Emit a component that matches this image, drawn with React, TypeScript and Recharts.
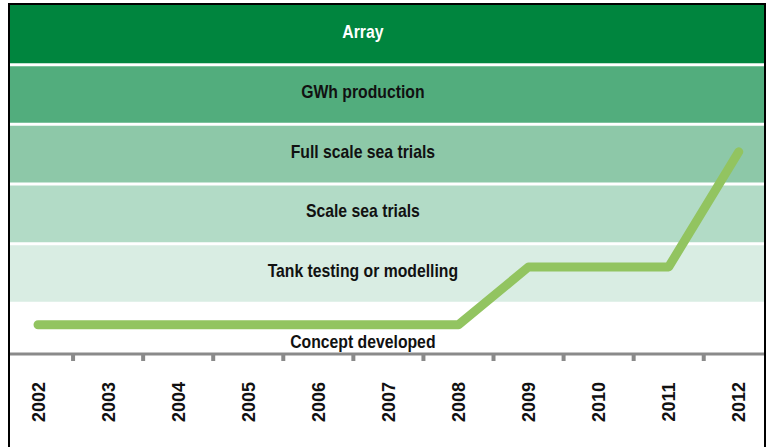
import { LineChart, Line, XAxis, YAxis, ReferenceArea, ReferenceLine } from 'recharts'

const years = [2002, 2003, 2004, 2005, 2006, 2007, 2008, 2009, 2010, 2011, 2012]
// stage reached each year (0 = concept ... 5 = array)
const progress = [0.64, 0.64, 0.64, 0.64, 0.64, 0.64, 0.64, 1.61, 1.61, 1.61, 3.54]
const stages = [
  'Concept developed',
  'Tank testing or modelling',
  'Scale sea trials',
  'Full scale sea trials',
  'GWh production',
  'Array',
]
// half-year positions for the tick marks between years
const dividers = years.slice(0, -1).map((y) => y + 0.5)

const bandFills = ['#ffffff', '#d9ede3', '#b2dbc6', '#8dc8a8', '#52ad7d', '#00853e']
const Y_MIN = 0.15
const X_DOMAIN = [2001.6, 2012.36]

const rows = years.map((year, i) => ({ year, stage: progress[i] }))

const FONT = "'Liberation Sans', Arial, Helvetica, sans-serif"

// narrow bold look: squeeze regular bold text horizontally
const bandLabel = (text: string, idx: number) => (props: any) => {
  const vb = props.viewBox
  const x = vb.x + vb.width * 0.468
  const y = idx === 0 ? vb.y + vb.height - 13 : vb.y + vb.height / 2 - 3
  return (
    <text
      transform={`translate(${x},${y}) scale(0.83,1)`}
      textAnchor="middle"
      dominantBaseline="central"
      fontFamily={FONT}
      fontWeight="bold"
      fontSize={19}
      fill={idx === stages.length - 1 ? '#ffffff' : '#111111'}
    >
      {text}
    </text>
  )
}

const YearTick = ({ x, y, payload }: any) => (
  <g transform={`translate(${x},${y + 38})`}>
    <text
      transform="rotate(-90)"
      textAnchor="middle"
      dy={6.5}
      fontFamily={FONT}
      fontWeight="bold"
      fontSize={18}
      fill="#111"
    >
      {payload.value}
    </text>
  </g>
)

const NoLabel = () => <g />

export default function App() {
  return (
    <div style={{ position: 'absolute', left: 0, top: 0, width: 770, height: 447, overflow: 'hidden', background: '#fff' }}>
      <LineChart width={770} height={447} data={rows} margin={{ top: 5, right: 6, bottom: 0, left: 10 }}>
        <XAxis
          xAxisId="ticks"
          type="number"
          dataKey="year"
          domain={X_DOMAIN}
          allowDataOverflow
          ticks={dividers}
          interval={0}
          tick={<NoLabel />}
          tickSize={7}
          tickLine={{ stroke: '#8a8a8a', strokeWidth: 4 }}
          axisLine={{ stroke: '#8a8a8a', strokeWidth: 3 }}
          height={10}
        />
        <XAxis
          xAxisId="years"
          type="number"
          dataKey="year"
          domain={X_DOMAIN}
          allowDataOverflow
          ticks={years}
          interval={0}
          tick={<YearTick />}
          tickLine={false}
          tickSize={0}
          tickMargin={0}
          axisLine={false}
          height={83}
        />
        <YAxis type="number" domain={[Y_MIN, 6]} allowDataOverflow hide />
        {stages.map((s, i) => (
          <ReferenceArea
            key={s}
            xAxisId="years"
            x1={X_DOMAIN[0]}
            x2={X_DOMAIN[1]}
            y1={Math.max(i, Y_MIN)}
            y2={i + 1}
            fill={bandFills[i]}
            fillOpacity={1}
            stroke="none"
            ifOverflow="hidden"
            label={bandLabel(s, i)}
          />
        ))}
        {stages.slice(1).map((s, i) => (
          <ReferenceLine key={`sep-${s}`} xAxisId="years" y={i + 1} stroke="#ffffff" strokeWidth={3} />
        ))}
        <Line
          xAxisId="years"
          type="linear"
          dataKey="stage"
          stroke="#92c460"
          strokeWidth={9}
          strokeLinecap="round"
          strokeLinejoin="round"
          dot={false}
          activeDot={false}
          isAnimationActive={false}
        />
      </LineChart>
      <div
        style={{
          position: 'absolute',
          left: 8,
          top: 3,
          width: 758,
          height: 500,
          boxSizing: 'border-box',
          border: '2px solid #000',
          pointerEvents: 'none',
        }}
      />
    </div>
  )
}
